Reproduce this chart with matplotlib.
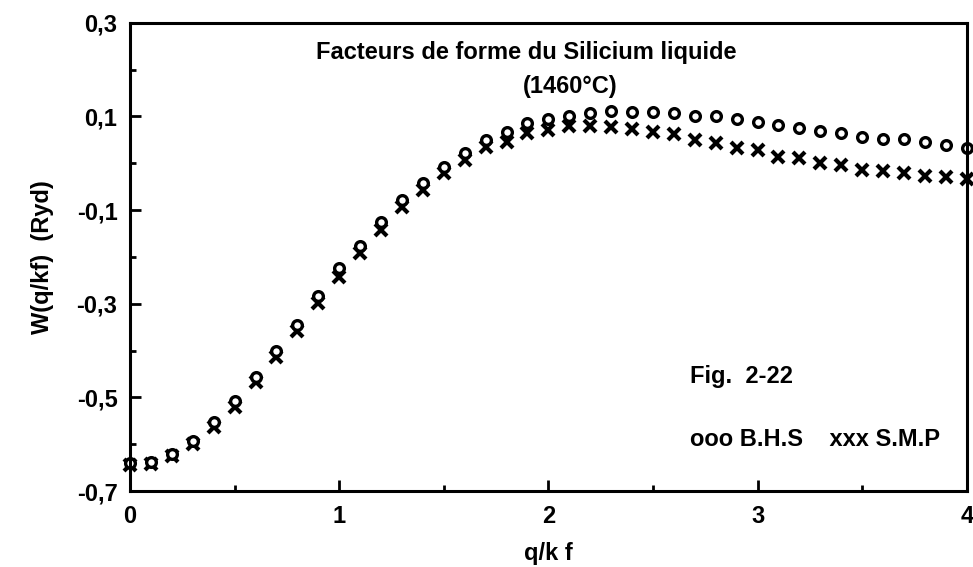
import numpy as np
import matplotlib.pyplot as plt
from matplotlib.ticker import FixedLocator, MultipleLocator, FuncFormatter

plt.rcParams['font.family'] = ['Liberation Sans', 'DejaVu Sans']
plt.rcParams['font.weight'] = 'bold'

q = np.round(np.arange(0, 41) * 0.1, 1)

bhs = [-0.640, -0.638, -0.621, -0.593, -0.553, -0.508, -0.456, -0.401, -0.345, -0.283,
       -0.224, -0.176, -0.125, -0.078, -0.042, -0.008, 0.022, 0.050, 0.067, 0.086,
       0.095, 0.101, 0.108, 0.112, 0.110, 0.110, 0.108, 0.101, 0.101, 0.095,
       0.088, 0.082, 0.076, 0.069, 0.065, 0.056, 0.052, 0.052, 0.046, 0.039,
       0.033]

smp = [-0.645, -0.642, -0.626, -0.600, -0.563, -0.520, -0.468, -0.414, -0.358, -0.298,
       -0.242, -0.192, -0.142, -0.094, -0.058, -0.022, 0.006, 0.035, 0.046, 0.065,
       0.071, 0.080, 0.080, 0.078, 0.073, 0.067, 0.063, 0.050, 0.044, 0.033,
       0.029, 0.014, 0.012, 0.001, -0.003, -0.014, -0.016, -0.021, -0.027, -0.029,
       -0.033]

yticks = [-0.7, -0.5, -0.3, -0.1, 0.1, 0.3]
yminor = [-0.6, -0.4, -0.2, 0.0, 0.2]

fig = plt.figure(figsize=(9.73, 5.67), dpi=100)
ax = fig.add_axes([0.1336, 0.134, 0.860, 0.826])

ax.plot(q, smp, linestyle='none', marker='x', ms=8, mew=3, color='k', clip_on=False)
ax.plot(q, bhs, linestyle='none', marker='o', ms=7, mew=2.4, mfc='white', mec='k',
        clip_on=False)

ax.set_xlim(0, 4)
ax.set_ylim(-0.7, 0.3)
ax.xaxis.set_major_locator(MultipleLocator(1))
ax.xaxis.set_minor_locator(MultipleLocator(0.5))
ax.yaxis.set_major_locator(FixedLocator(yticks))
ax.yaxis.set_minor_locator(FixedLocator(yminor))
ax.yaxis.set_major_formatter(FuncFormatter(lambda v, p: f"{v:.1f}".replace('.', ',')))

for s in ax.spines.values():
    s.set_linewidth(2.2)
ax.tick_params(which='major', direction='in', length=8, width=2, labelsize=17)
ax.tick_params(axis='x', pad=10)
ax.tick_params(axis='y', pad=9)
ax.tick_params(which='minor', direction='in', length=4, width=2)

ax.set_xlabel("q/k f", fontsize=17, fontweight='bold', labelpad=10)
ax.set_ylabel("W(q/kf)  (Ryd)", fontsize=17, fontweight='bold', labelpad=16)

ax.text(0.474, 0.936, "Facteurs de forme du Silicium liquide", transform=ax.transAxes,
        ha='center', va='center', fontsize=17)
ax.text(0.526, 0.863, "(1460°C)", transform=ax.transAxes,
        ha='center', va='center', fontsize=17)
ax.text(0.669, 0.245, "Fig.  2-22", transform=ax.transAxes, ha='left', va='center',
        fontsize=17)
ax.text(0.669, 0.109, "ooo B.H.S    xxx S.M.P", transform=ax.transAxes, ha='left',
        va='center', fontsize=17)

fig.savefig("out.png", dpi=100)
